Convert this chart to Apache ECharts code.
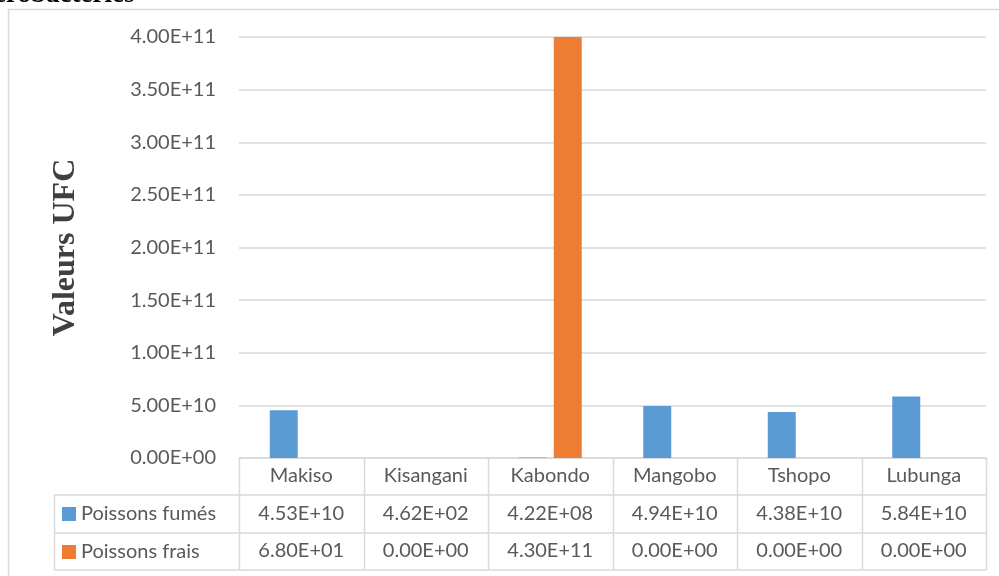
<!DOCTYPE html>
<html>
<head>
<meta charset="utf-8">
<script src="https://cdn.jsdelivr.net/npm/echarts@6/dist/echarts.min.js"></script>
<style>
  html, body { margin: 0; padding: 0; background: #fff; }
  #chart { width: 999px; height: 576px; }
</style>
</head>
<body>
<div id="chart"></div>
<script>
// données
var sites = ['Makiso', 'Kisangani', 'Kabondo', 'Mangobo', 'Tshopo', 'Lubunga'];
var fumes = [4.53e10, 4.62e2, 4.22e8, 4.94e10, 4.38e10, 5.84e10];
var frais = [6.80e1, 0, 4.30e11, 0, 0, 0];
var seriesNames = ['Poissons fumés', 'Poissons frais'];
var colors = ['#5B9BD5', '#ED7D31'];

// mise en page (pixels)
var L = 239, R = 986, T = 37, B = 458;
var rowH = [37, 38, 37];
var tableLeft = 54;
var lineColor = '#D9D9D9';
var textColor = '#595959';
var font = 'Lato';
var fs = 20;

function fmt(v) {
    var s = Number(v).toExponential(2).toUpperCase();
    var parts = s.split('E');
    var sign = parts[1].charAt(0);
    var exp = parts[1].slice(1);
    if (exp.length < 2) exp = '0' + exp;
    return parts[0] + 'E' + sign + exp;
}

var chart = echarts.init(document.getElementById('chart'));

// lignes du tableau de données
var y1 = B + rowH[0], y2 = y1 + rowH[1], y3 = y2 + rowH[2];
var colW = (R - L) / sites.length;
var tableLines = [];
function line(x1, ya, x2, yb) {
    tableLines.push({
        type: 'line',
        shape: { x1: x1, y1: ya, x2: x2, y2: yb },
        style: { stroke: lineColor, lineWidth: 1.5 },
        z: 10
    });
}
for (var i = 0; i <= sites.length; i++) {
    var x = Math.round(L + i * colW) + 0.5;
    line(x, B, x, y3);
}
line(tableLeft, y1, R, y1);
line(tableLeft, y2, R, y2);
line(tableLeft, y3, R, y3);
line(tableLeft + 0.5, y1, tableLeft + 0.5, y3);

var rowLabel = { color: textColor, fontSize: fs, margin: 8 };

var option = {
    animation: false,
    backgroundColor: '#fff',
    textStyle: { fontFamily: font },
    grid: { left: L, right: 999 - R, top: T, bottom: 576 - B },
    legend: {
        orient: 'vertical',
        left: 62,
        top: y1 + 9,
        height: 90,
        padding: 0,
        itemWidth: 14,
        itemHeight: 14,
        itemGap: 18,
        icon: 'rect',
        data: seriesNames,
        textStyle: { color: textColor, fontSize: fs, fontFamily: font }
    },
    xAxis: [
        {
            type: 'category',
            data: sites,
            axisLine: { show: true, lineStyle: { color: lineColor, width: 1.5 } },
            axisTick: { show: false },
            axisLabel: rowLabel
        },
        {
            type: 'category',
            position: 'bottom',
            offset: 38,
            data: fumes.map(fmt),
            axisLine: { show: false },
            axisTick: { show: false },
            axisLabel: rowLabel
        },
        {
            type: 'category',
            position: 'bottom',
            offset: 75,
            data: frais.map(fmt),
            axisLine: { show: false },
            axisTick: { show: false },
            axisLabel: rowLabel
        }
    ],
    yAxis: {
        type: 'value',
        min: 0,
        max: 4e11,
        interval: 5e10,
        name: 'Valeurs UFC',
        nameLocation: 'middle',
        nameGap: 157,
        nameTextStyle: {
            fontFamily: 'Liberation Serif',
            fontWeight: 'bold',
            fontSize: 32,
            color: '#404040'
        },
        axisLine: { show: false },
        axisTick: { show: false },
        axisLabel: { color: textColor, fontSize: fs, margin: 23, formatter: fmt },
        splitLine: { lineStyle: { color: lineColor, width: 1.5 } }
    },
    series: [
        {
            name: seriesNames[0],
            type: 'bar',
            data: fumes,
            barWidth: 28,
            barGap: '25%',
            itemStyle: { color: colors[0] },
            clip: true
        },
        {
            name: seriesNames[1],
            type: 'bar',
            data: frais,
            barWidth: 28,
            itemStyle: { color: colors[1] },
            clip: true
        }
    ],
    graphic: [
        {
            type: 'rect',
            shape: { x: 8.5, y: 9.5, width: 1100, height: 700 },
            style: { fill: 'none', stroke: lineColor, lineWidth: 1.5 },
            z: -1
        },
        {
            type: 'text',
            left: -6,
            top: -18,
            style: {
                text: 'erobacteries',
                font: 'bold 27px "Liberation Serif"',
                fill: '#000'
            }
        }
    ].concat(tableLines)
};

chart.setOption(option);
</script>
</body>
</html>
